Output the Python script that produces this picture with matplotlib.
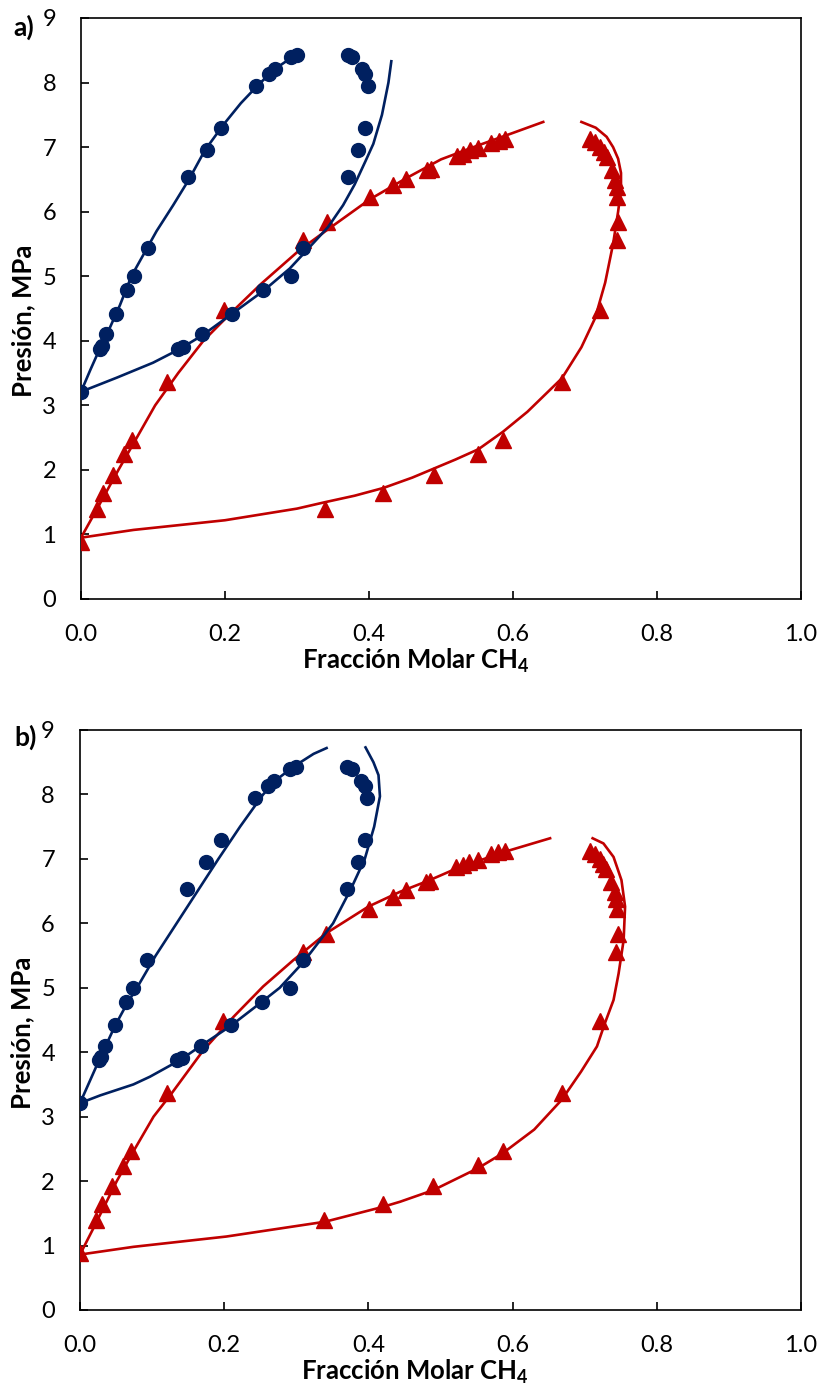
import matplotlib
matplotlib.use('Agg')
import matplotlib.pyplot as plt

plt.rcParams['font.family'] = ['Lato', 'DejaVu Sans']
plt.rcParams['mathtext.fontset'] = 'custom'
plt.rcParams['mathtext.rm'] = 'Lato'
plt.rcParams['mathtext.bf'] = 'Lato:bold'
plt.rcParams['mathtext.default'] = 'bf'

BLUE = '#002060'
RED = '#C00000'

# experimental points (same in both panels)
blue_liq_x = [0.0, 0.027, 0.029, 0.035, 0.049, 0.064, 0.073, 0.093, 0.149, 0.175, 0.195,
              0.243, 0.261, 0.269, 0.291, 0.300]
blue_liq_p = [3.21, 3.88, 3.92, 4.10, 4.42, 4.78, 5.00, 5.43, 6.54, 6.95, 7.30,
              7.94, 8.13, 8.21, 8.39, 8.42]
blue_vap_x = [0.135, 0.141, 0.168, 0.210, 0.253, 0.291, 0.309, 0.371, 0.385, 0.395,
              0.398, 0.395, 0.390, 0.377, 0.371]
blue_vap_p = [3.88, 3.91, 4.10, 4.42, 4.78, 5.00, 5.43, 6.54, 6.95, 7.30,
              7.94, 8.13, 8.21, 8.39, 8.42]

red_liq_x = [0.0, 0.022, 0.031, 0.045, 0.060, 0.071, 0.120, 0.199, 0.309, 0.341, 0.401,
             0.434, 0.452, 0.480, 0.486, 0.522, 0.531, 0.540, 0.552, 0.570, 0.580, 0.589]
red_liq_p = [0.89, 1.40, 1.64, 1.92, 2.24, 2.47, 3.36, 4.48, 5.56, 5.84, 6.23,
             6.41, 6.51, 6.64, 6.66, 6.87, 6.90, 6.95, 6.98, 7.07, 7.10, 7.13]
red_vap_x = [0.339, 0.420, 0.490, 0.552, 0.586, 0.668, 0.721, 0.744, 0.746, 0.745,
             0.744, 0.742, 0.737, 0.730, 0.726, 0.721, 0.714, 0.707]
red_vap_p = [1.40, 1.64, 1.92, 2.25, 2.47, 3.36, 4.48, 5.56, 5.84, 6.23,
             6.38, 6.49, 6.64, 6.85, 6.92, 7.00, 7.08, 7.13]

# model curves, panel a
a_blue_liq_x = [0.0, 0.013, 0.027, 0.040, 0.054, 0.070, 0.085, 0.105, 0.128, 0.150, 0.172,
                0.198, 0.222, 0.245, 0.268, 0.285, 0.300]
a_blue_liq_p = [3.21, 3.55, 3.90, 4.20, 4.55, 5.00, 5.30, 5.70, 6.10, 6.50, 6.95,
                7.35, 7.68, 7.95, 8.20, 8.33, 8.43]
a_blue_vap_x = [0.0, 0.05, 0.10, 0.135, 0.168, 0.210, 0.253, 0.290, 0.310, 0.343, 0.364,
                0.380, 0.395, 0.406, 0.418, 0.427, 0.431]
a_blue_vap_p = [3.21, 3.43, 3.66, 3.86, 4.08, 4.42, 4.77, 5.12, 5.36, 5.76, 6.10,
                6.42, 6.78, 7.05, 7.50, 8.00, 8.33]
a_red_liq_x = [0.0, 0.020, 0.052, 0.075, 0.103, 0.135, 0.170, 0.210, 0.250, 0.303, 0.341,
               0.401, 0.452, 0.500, 0.550, 0.600, 0.642]
a_red_liq_p = [0.95, 1.35, 2.00, 2.45, 3.00, 3.50, 4.00, 4.45, 4.88, 5.40, 5.71,
               6.19, 6.52, 6.81, 7.02, 7.22, 7.39]
a_red_vap_x = [0.0, 0.073, 0.200, 0.300, 0.339, 0.380, 0.420, 0.460, 0.490, 0.520, 0.552,
               0.586, 0.620, 0.668, 0.695, 0.714, 0.728, 0.739, 0.746, 0.750, 0.750,
               0.746, 0.739, 0.730, 0.715, 0.695]
a_red_vap_p = [0.95, 1.07, 1.22, 1.40, 1.50, 1.60, 1.72, 1.88, 2.02, 2.16, 2.32,
               2.59, 2.90, 3.42, 3.90, 4.35, 4.90, 5.50, 6.00, 6.35, 6.60,
               6.82, 7.00, 7.16, 7.30, 7.39]

# model curves, panel b
b_blue_liq_x = [0.0, 0.027, 0.049, 0.066, 0.079, 0.105, 0.134, 0.163, 0.192, 0.222,
                0.254, 0.275, 0.296, 0.324, 0.342]
b_blue_liq_p = [3.21, 3.89, 4.42, 4.77, 5.00, 5.50, 6.00, 6.50, 7.00, 7.50,
                8.00, 8.25, 8.43, 8.63, 8.72]
b_blue_vap_x = [0.0, 0.028, 0.074, 0.097, 0.139, 0.169, 0.208, 0.252, 0.277, 0.310,
                0.351, 0.376, 0.395, 0.408, 0.416, 0.414, 0.407, 0.396]
b_blue_vap_p = [3.21, 3.33, 3.50, 3.62, 3.88, 4.11, 4.40, 4.78, 5.00, 5.40,
                6.00, 6.54, 7.00, 7.50, 7.97, 8.30, 8.50, 8.73]
b_red_liq_x = [0.0, 0.020, 0.051, 0.075, 0.102, 0.127, 0.171, 0.213, 0.254, 0.296,
               0.342, 0.400, 0.444, 0.485, 0.522, 0.589, 0.652]
b_red_liq_p = [0.86, 1.30, 2.00, 2.48, 3.00, 3.36, 4.03, 4.55, 5.02, 5.43,
               5.85, 6.26, 6.49, 6.67, 6.85, 7.11, 7.32]
b_red_vap_x = [0.0, 0.074, 0.203, 0.340, 0.420, 0.444, 0.490, 0.552, 0.586, 0.630,
               0.668, 0.695, 0.717, 0.728, 0.740, 0.747, 0.754, 0.756, 0.751, 0.740,
               0.726, 0.711]
b_red_vap_p = [0.86, 0.98, 1.14, 1.37, 1.60, 1.68, 1.86, 2.20, 2.43, 2.80,
               3.26, 3.70, 4.09, 4.45, 4.81, 5.22, 5.74, 6.26, 6.67, 7.03,
               7.24, 7.32]

x_ticks = [0.0, 0.2, 0.4, 0.6, 0.8, 1.0]
y_ticks = list(range(10))

W, H = 823, 1391
fig = plt.figure(figsize=(W / 100, H / 100), dpi=100)


def draw_panel(ax, curves, tag, tag_xy):
    for cx, cp in curves[2:]:
        ax.plot(cx, cp, color=RED, lw=1.9, zorder=2, solid_joinstyle='round')
    ax.plot(red_liq_x, red_liq_p, ls='none', marker='^', ms=11, color=RED, mec=RED, zorder=3)
    ax.plot(red_vap_x, red_vap_p, ls='none', marker='^', ms=11, color=RED, mec=RED, zorder=3)
    for cx, cp in curves[:2]:
        ax.plot(cx, cp, color=BLUE, lw=1.9, zorder=4, solid_joinstyle='round')
    ax.plot(blue_liq_x, blue_liq_p, ls='none', marker='o', ms=10, color=BLUE, zorder=5)
    ax.plot(blue_vap_x, blue_vap_p, ls='none', marker='o', ms=10, color=BLUE, zorder=5)

    ax.set_xlim(0, 1)
    ax.set_ylim(0, 9)
    ax.set_xticks(x_ticks)
    ax.set_xticklabels(['%.1f' % t for t in x_ticks])
    ax.set_yticks(y_ticks)
    ax.tick_params(direction='in', length=5.5, width=1.2, labelsize=17, pad=18,
                   colors='black')
    for s in ax.spines.values():
        s.set_linewidth(1.2)
    ax.text(0.465, -0.107, 'Fracción Molar CH$_4$', transform=ax.transAxes,
            ha='center', va='center', fontsize=18.5, fontweight='bold')
    ax.set_ylabel('Presión, MPa', fontsize=18.5, fontweight='bold')
    ax.yaxis.set_label_coords(-0.064, 0.478)
    fig.text(tag_xy[0] / W, 1 - tag_xy[1] / H, tag, ha='center', va='center',
             fontsize=19, fontweight='bold')


ax_a = fig.add_axes([81 / W, 1 - 599 / H, 720 / W, 581 / H])
draw_panel(ax_a, [(a_blue_liq_x, a_blue_liq_p), (a_blue_vap_x, a_blue_vap_p),
                  (a_red_liq_x, a_red_liq_p), (a_red_vap_x, a_red_vap_p)],
           'a)', (24, 27))

ax_b = fig.add_axes([80 / W, 1 - 1310 / H, 721 / W, 580 / H])
draw_panel(ax_b, [(b_blue_liq_x, b_blue_liq_p), (b_blue_vap_x, b_blue_vap_p),
                  (b_red_liq_x, b_red_liq_p), (b_red_vap_x, b_red_vap_p)],
           'b)', (26, 737))

fig.savefig('out.png', dpi=100)
